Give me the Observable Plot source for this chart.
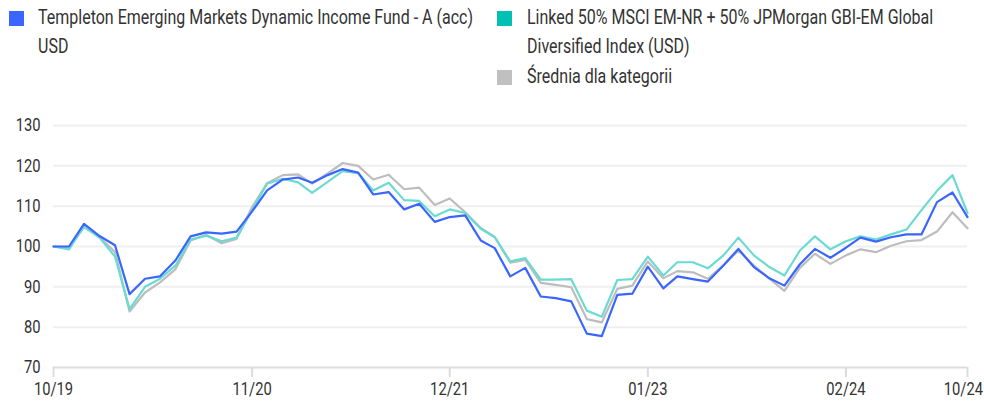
<!DOCTYPE html>
<html>
<head>
<meta charset="utf-8">
<script src="https://cdn.jsdelivr.net/npm/d3@7"></script>
<script src="https://cdn.jsdelivr.net/npm/@observablehq/plot@0.6"></script>
<style>
  html, body { margin: 0; padding: 0; background: #fff; }
  body { width: 984px; height: 405px; overflow: hidden; font-family: Roboto, "Noto Sans", sans-serif; color: #333; }
  #legend { position: relative; height: 100px; font-size: 20px; line-height: 29px; }
  .sw { position: absolute; width: 15px; height: 15px; }
  .lt { position: absolute; white-space: nowrap; transform-origin: 0 0; }
  #chart svg { display: block; }
</style>
</head>
<body>
<div id="legend"></div>
<div id="chart"></div>
<script>
const seriesNames = [
  "Templeton Emerging Markets Dynamic Income Fund - A (acc)\nUSD",
  "Linked 50% MSCI EM-NR + 50% JPMorgan GBI-EM Global\nDiversified Index (USD)",
  "Średnia dla kategorii"
];
const lineColors = ["#3a66ff", "#6bdad2", "#bdbdbd"];
const swatchColors = ["#3a66ff", "#00c1b2", "#c0c0c0"];

const fund = [100, 100, 105.6, 102.6, 100.3, 88.2, 92.0, 92.6, 96.6, 102.5,
  103.5, 103.2, 103.7, 108.7, 113.9, 116.6, 117.1, 115.8, 117.7, 119.2,
  118.3, 112.9, 113.5, 109.2, 110.6, 106.1, 107.3, 107.7, 101.5, 99.6,
  92.6, 94.7, 87.6, 87.2, 86.4, 78.4, 77.8, 88.0, 88.3, 95.0,
  89.6, 92.6, 91.9, 91.3, 95.3, 99.4, 94.9, 92.1, 90.3, 95.6,
  99.4, 97.2, 99.7, 102.2, 101.2, 102.3, 103.0, 103.0, 111.0, 113.4,
  107.3];
const benchmark = [100, 99.3, 105.0, 102.2, 97.5, 84.5, 90.0, 92.0, 95.3, 101.7,
  102.7, 101.3, 102.2, 109.0, 115.6, 116.8, 115.9, 113.3, 116.0, 118.7,
  118.2, 113.9, 115.8, 111.5, 111.3, 107.5, 109.2, 108.3, 104.4, 102.3,
  96.3, 97.1, 91.8, 91.8, 91.9, 84.1, 82.6, 91.7, 91.9, 97.5,
  92.8, 96.1, 96.1, 94.6, 97.8, 102.2, 97.8, 94.9, 92.8, 99.0,
  102.5, 99.3, 101.3, 102.5, 101.7, 103.0, 104.2, 109.0, 113.8, 117.7,
  108.3];
const category = [100, 99.7, 104.8, 102.3, 98.6, 83.9, 88.6, 91.1, 94.4, 101.5,
  102.9, 100.8, 101.9, 109.8, 115.7, 117.7, 117.9, 115.6, 118.1, 120.7,
  120.0, 116.6, 117.8, 114.2, 114.6, 110.3, 111.9, 108.5, 104.6, 102.4,
  96.0, 96.7, 91.0, 90.5, 89.9, 82.0, 81.2, 89.5, 90.3, 96.3,
  92.1, 93.9, 93.6, 92.0, 95.3, 99.0, 95.3, 92.0, 89.0, 94.7,
  98.2, 95.7, 97.8, 99.3, 98.6, 100.2, 101.3, 101.6, 103.7, 108.5,
  104.5];
const tickLabels = ["10/19", "11/20", "12/21", "01/23", "02/24", "10/24"];
const yTicks = [70, 80, 90, 100, 110, 120, 130];

// months Oct 2019 .. Oct 2024
const months = d3.utcMonth.range(new Date(Date.UTC(2019, 9, 1)), new Date(Date.UTC(2024, 10, 1)));
const parseTick = s => { const [m, y] = s.split("/"); return new Date(Date.UTC(2000 + +y, +m - 1, 1)); };
const tickDates = tickLabels.map(parseTick);

const table = [];
[fund, benchmark, category].forEach((arr, s) => {
  arr.forEach((v, i) => table.push({date: months[i], value: v, series: s}));
});

// Legend
const legend = document.getElementById("legend");
const legendPos = [{sx: 9, sy: 11, tx: 38, ty: 3}, {sx: 497, sy: 11, tx: 527, ty: 3}, {sx: 497, sy: 70, tx: 527, ty: 62}];
const textEls = [];
seriesNames.forEach((name, i) => {
  const p = legendPos[i];
  const sw = document.createElement("div");
  sw.className = "sw";
  sw.style.left = p.sx + "px"; sw.style.top = p.sy + "px"; sw.style.background = swatchColors[i];
  legend.appendChild(sw);
  const t = document.createElement("div");
  t.className = "lt";
  t.style.left = p.tx + "px"; t.style.top = p.ty + "px";
  const lines = name.split("\n");
  t.innerHTML = lines.map(l => `<span>${l}</span>`).join("<br>");
  legend.appendChild(t);
  textEls.push(t);
});
// condense legend text so the first line matches the reference width
const firstSpan = textEls[0].querySelector("span");
const k = 435 / firstSpan.getBoundingClientRect().width;
textEls.forEach(t => t.style.transform = `scaleX(${k})`);

const order = [2, 1, 0];
const chart = Plot.plot({
  width: 984,
  height: 305,
  marginTop: 25,
  marginBottom: 38,
  marginLeft: 53,
  marginRight: 17,
  style: {fontFamily: "Roboto, 'Noto Sans', sans-serif", fontSize: "18px", color: "#333", background: "#fff"},
  x: {type: "utc", domain: [months[0], months[months.length - 1]], label: null},
  y: {domain: [70, 130], label: null},
  marks: [
    Plot.ruleY(yTicks.filter(d => d > 70), {stroke: "#efefef", strokeWidth: 2}),
    Plot.ruleY([70], {stroke: "#dcdcdc", strokeWidth: 2}),
    Plot.axisY(yTicks, {tickSize: 0, tickPadding: 13, fill: "#333", fontSize: 18, label: null}),
    Plot.axisX(tickDates, {tickSize: 10, tickPadding: 5, stroke: "#dcdcdc", strokeWidth: 2, fill: "#333", fontSize: 18, label: null,
      tickFormat: (d, i) => tickLabels[i]}),
    ...order.map(s => Plot.line(table.filter(d => d.series === s), {x: "date", y: "value", stroke: lineColors[s], strokeWidth: 2.2}))
  ]
});
document.getElementById("chart").appendChild(chart);
// condense axis tick labels like the reference's narrow face
chart.querySelectorAll("g[aria-label='y-axis tick label'] text, g[aria-label='x-axis tick label'] text").forEach(t => {
  const tr = t.getAttribute("transform") || "";
  t.setAttribute("transform", tr + " scale(0.82,1)");
});
// keep the last x label inside the frame (reference ends it at the right edge)
const xLabels = chart.querySelectorAll("g[aria-label='x-axis tick label'] text");
const last = xLabels[xLabels.length - 1];
if (last) {
  const b = last.getBoundingClientRect();
  const svgB = chart.getBoundingClientRect();
  const over = b.right - (svgB.left + 983);
  if (over > 0) last.setAttribute("dx", String(-over / 0.82));
}
</script>
</body>
</html>
